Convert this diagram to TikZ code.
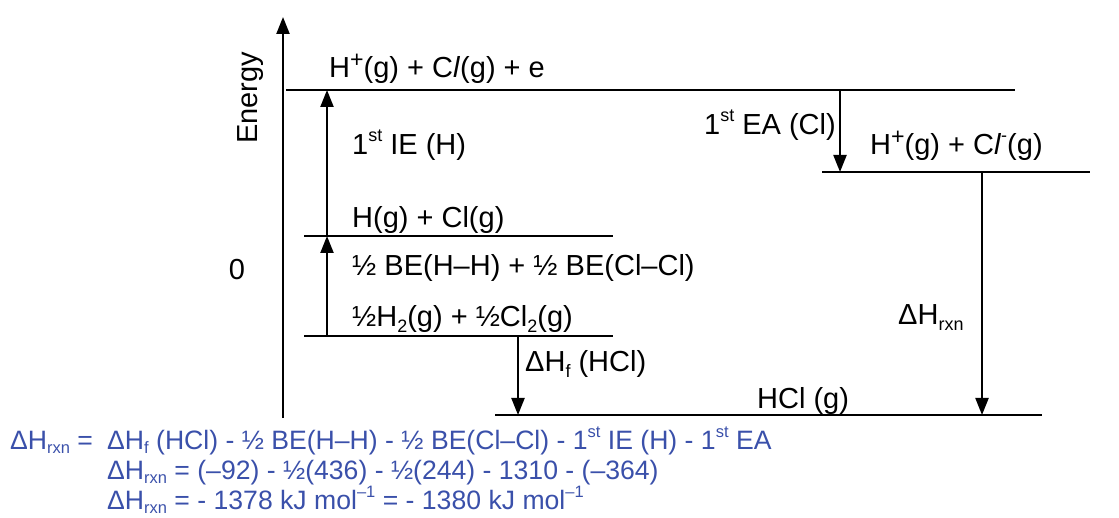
\documentclass[tikz,border=0pt]{standalone}
\usepackage{fontspec}
\setmainfont{Liberation Sans}
\usetikzlibrary{arrows.meta}
\newcommand\lo[1]{\raisebox{-0.18em}{\scalebox{0.62}{#1}}}
\newcommand\hi[1]{\raisebox{0.45em}{\scalebox{0.62}{#1}}}
\newcommand\plus{\raisebox{0.36em}{\scalebox{0.8}{+}}}
\definecolor{eqblue}{RGB}{58,80,170}
\begin{document}
\begin{tikzpicture}[x=1pt,y=-1pt,
 lvl/.style={line width=2.4pt},
 arr/.style={line width=2.2pt,-{Triangle[length=17pt,width=13pt]}},
 lab/.style={inner sep=0pt,anchor=base west,font=\fontsize{29}{34}\selectfont},
 eq/.style={inner sep=0pt,anchor=base west,text=eqblue,font=\fontsize{26.6}{32}\selectfont}]
\useasboundingbox (0,0) rectangle (1119,518);
% axis
\coordinate (ax0) at (283,418);
\coordinate (ax1) at (283,17);
\draw[arr] (ax0) -- (ax1);
\node[lab,anchor=center,rotate=90] (en) at (251,98) {Energy};
\node[lab,anchor=center] (zero) at (237,270) {0};
% levels
\coordinate (L1a) at (286,90);  \coordinate (L1b) at (1015,90);
\coordinate (L2a) at (304,236); \coordinate (L2b) at (613,236);
\coordinate (L3a) at (304,336); \coordinate (L3b) at (613,336);
\coordinate (L4a) at (495,415); \coordinate (L4b) at (1042,415);
\coordinate (L5a) at (822,172); \coordinate (L5b) at (1090,172);
\foreach \l in {L1,L2,L3,L4,L5} \draw[lvl] (\l a) -- (\l b);
% arrows
\coordinate (ieS) at (327,236); \coordinate (ieE) at (327,90);
\coordinate (beS) at (327,336); \coordinate (beE) at (327,236);
\coordinate (hfS) at (518,336); \coordinate (hfE) at (518,415);
\coordinate (eaS) at (840,90);  \coordinate (eaE) at (840,172);
\coordinate (rxS) at (982,172); \coordinate (rxE) at (982,415);
\draw[arr] (ieS) -- (ieE);
\draw[arr] (beS) -- (beE);
\draw[arr] (hfS) -- (hfE);
\draw[arr] (eaS) -- (eaE);
\draw[arr] (rxS) -- (rxE);
% labels
\node[lab] (t1) at (329,78) {H\plus(g) + C\textit{l}(g) + e};
\node[lab] (t2) at (352,155) {1\hi{st} IE (H)};
\node[lab] (t3) at (352,228) {H(g) + Cl(g)};
\node[lab] (t4) at (352,276) {½ BE(H–H) + ½ BE(Cl–Cl)};
\node[lab] (t5) at (352,327) {½H\lo{2}(g) + ½Cl\lo{2}(g)};
\node[lab] (t6) at (525,372) {ΔH\lo{f} (HCl)};
\node[lab] (t7) at (757,408) {HCl (g)};
\node[lab,anchor=base east] (t8) at (836,135) {1\hi{st} EA (Cl)};
\node[lab] (t9) at (870,155) {H\plus(g) + C\textit{l}\hi{-}(g)};
\node[lab] (t10) at (898,325) {ΔH\lo{rxn}};
% equations
\node[eq] (e1a) at (10,449) {ΔH\lo{rxn} =};
\node[eq] (e1b) at (107,449) {ΔH\lo{f} (HCl) - ½ BE(H–H) - ½ BE(Cl–Cl) - 1\hi{st} IE (H) - 1\hi{st} EA};
\node[eq] (e2) at (107,479) {ΔH\lo{rxn} = (–92) - ½(436) - ½(244) - 1310 - (–364)};
\node[eq] (e3) at (107,509) {ΔH\lo{rxn} = - 1378 kJ mol\hi{–1} = - 1380 kJ mol\hi{–1}};
\end{tikzpicture}
\end{document}
